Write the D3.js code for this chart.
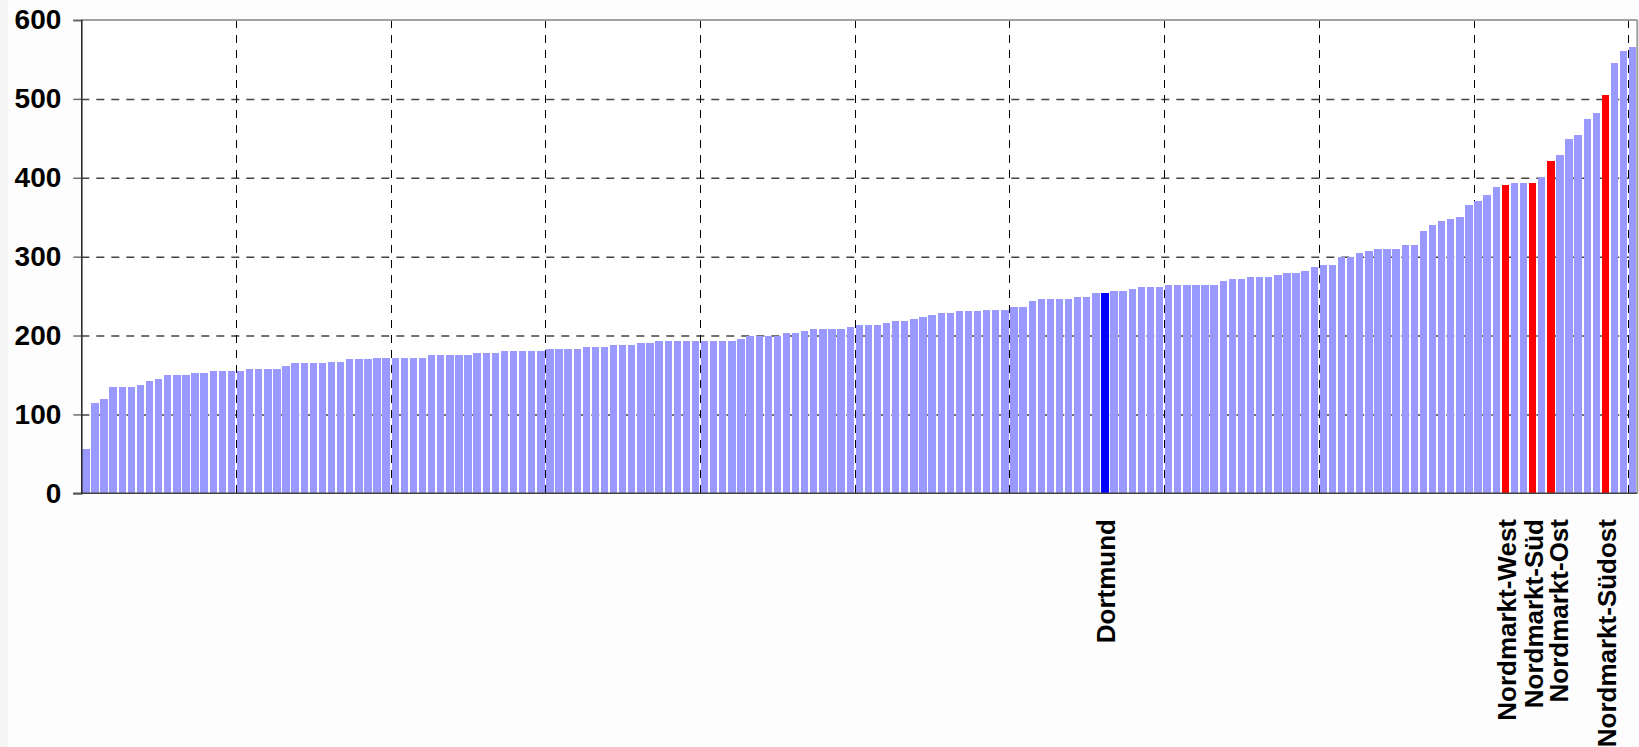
<!DOCTYPE html>
<html>
<head>
<meta charset="utf-8">
<script src="https://cdn.jsdelivr.net/npm/d3@7"></script>
<style>
body { margin: 0; background: #fdfdfd; }
svg { display: block; font-family: "Liberation Sans", Arial, sans-serif; font-weight: bold; }
</style>
</head>
<body>
<svg width="1639" height="747"></svg>
<script>
// values per district, sorted ascending
var values = [
  56, 115, 120, 135, 135, 135, 137, 142, 145, 150,
  150, 150, 152, 152, 155, 155, 155, 155, 157, 157,
  157, 157, 162, 165, 165, 165, 165, 167, 167, 170,
  170, 170, 172, 172, 172, 172, 172, 172, 175, 175,
  175, 175, 175, 178, 178, 178, 180, 180, 180, 180,
  180, 183, 183, 183, 183, 185, 185, 185, 188, 188,
  188, 190, 190, 193, 193, 193, 193, 193, 193, 193,
  193, 193, 195, 200, 200, 200, 200, 203, 203, 206,
  208, 208, 208, 208, 211, 213, 213, 213, 216, 218,
  218, 221, 223, 226, 228, 228, 231, 231, 231, 233,
  233, 233, 236, 236, 244, 246, 246, 246, 246, 249,
  249, 254, 254, 256, 256, 259, 261, 261, 261, 264,
  264, 264, 264, 264, 264, 269, 272, 272, 274, 274,
  274, 277, 279, 279, 282, 287, 289, 289, 300, 300,
  305, 307, 310, 310, 310, 315, 315, 333, 340, 345,
  348, 350, 365, 370, 378, 388, 391, 393, 393, 393,
  401, 421, 429, 449, 454, 474, 482, 505, 545, 561,
  566
];

// only these bars are named / coloured
var highlightIdx = [112, 156, 159, 161, 167];
var highlightNames = ["Dortmund", "Nordmarkt-West", "Nordmarkt-Süd", "Nordmarkt-Ost", "Nordmarkt-Südost"];
var highlightColors = ["#0000ff", "#ff0000", "#ff0000", "#ff0000", "#ff0000"];

var yTicks = [0, 100, 200, 300, 400, 500, 600];
var gridY = [100, 200, 300, 400, 500];
var gridIdx = [17, 34, 51, 68, 85, 102, 119, 136, 153, 170];

var barColor = "#9999ff";

var svg = d3.select("svg"),
    plotLeft = 81.3, plotRight = 1637.3, plotTop = 20, plotBottom = 493.3,
    plotW = plotRight - plotLeft,
    plotH = plotBottom - plotTop;

svg.append("rect").attr("x", 0).attr("y", 0).attr("width", 8).attr("height", 747).attr("fill", "#f5f5f5");
svg.append("rect").attr("x", plotLeft).attr("y", plotTop).attr("width", plotW).attr("height", plotH).attr("fill", "#fff");

var idx = d3.range(values.length);

var x = d3.scaleBand()
    .domain(idx)
    .range([plotLeft, plotRight])
    .paddingInner(0.19)
    .paddingOuter(0.095);

// continuous index scale, used for the category gridlines
var xIdx = d3.scaleLinear().domain([0, values.length]).range([plotLeft, plotRight]);

var y = d3.scaleLinear().domain([0, 600]).range([plotBottom, plotTop]);

// gridlines
svg.append("g")
    .attr("class", "grid")
    .attr("transform", "translate(" + plotLeft + ",0)")
    .call(d3.axisLeft(y).tickValues(gridY).tickSize(-plotW).tickFormat(""))
    .call(function(g) { g.select(".domain").remove(); })
    .selectAll("line")
      .attr("stroke", "#444")
      .attr("stroke-width", 1.5)
      .attr("stroke-dasharray", "8,7");

svg.append("g")
    .attr("class", "grid")
    .attr("transform", "translate(0," + plotBottom + ")")
    .call(d3.axisBottom(xIdx).tickValues(gridIdx).tickSize(-plotH).tickFormat(""))
    .call(function(g) { g.select(".domain").remove(); })
    .selectAll("line")
      .attr("stroke", "#000")
      .attr("stroke-width", 1)
      .attr("shape-rendering", "crispEdges")
      .attr("stroke-dasharray", "8,7");

// bars
svg.append("g")
  .selectAll("rect")
  .data(idx)
  .enter().append("rect")
    .attr("x", function(i) { return x(i); })
    .attr("y", function(i) { return y(values[i]); })
    .attr("width", x.bandwidth())
    .attr("height", function(i) { return plotBottom - y(values[i]); })
    .attr("shape-rendering", "crispEdges")
    .attr("fill", function(i) {
        var k = highlightIdx.indexOf(i);
        return k < 0 ? barColor : highlightColors[k];
    });

// frame
svg.append("line").attr("x1", plotLeft).attr("x2", plotRight).attr("y1", plotTop).attr("y2", plotTop)
    .attr("stroke", "#a0a0a0").attr("stroke-width", 2);
svg.append("line").attr("x1", plotRight).attr("x2", plotRight).attr("y1", plotTop).attr("y2", plotBottom)
    .attr("stroke", "#a0a0a0").attr("stroke-width", 2);
svg.append("line").attr("x1", plotLeft - 8).attr("x2", plotRight).attr("y1", plotBottom).attr("y2", plotBottom)
    .attr("stroke", "#444").attr("stroke-width", 1.6);

// y axis
var yAxis = svg.append("g")
    .attr("transform", "translate(" + plotLeft + ",0)")
    .call(d3.axisLeft(y).tickValues(yTicks).tickSize(8).tickPadding(12));
yAxis.select(".domain").attr("stroke", "#222").attr("stroke-width", 1.5);
yAxis.selectAll(".tick line").attr("stroke", "#666").attr("stroke-width", 1.4);
yAxis.selectAll(".tick text")
    .attr("fill", "#000")
    .style("font-size", "28px")
    .style("font-weight", "bold");

// category labels for the highlighted bars; a label too close to the
// previous one is pushed right so the two do not collide
var labelX = [];
highlightIdx.forEach(function(i, k) {
    var cx = x(i) + x.step() / 2;
    if (k > 0 && cx - labelX[k - 1] < 25) cx = labelX[k - 1] + 25;
    labelX.push(cx);
});

svg.append("g")
  .selectAll("text")
  .data(highlightIdx)
  .enter().append("text")
    .attr("transform", function(i, k) {
        return "translate(" + labelX[k] + ",519) rotate(-90)";
    })
    .attr("text-anchor", "end")
    .attr("dy", "0.36em")
    .style("font-size", "26px")
    .attr("fill", "#000")
    .text(function(i, k) { return highlightNames[k]; });
</script>
</body>
</html>
